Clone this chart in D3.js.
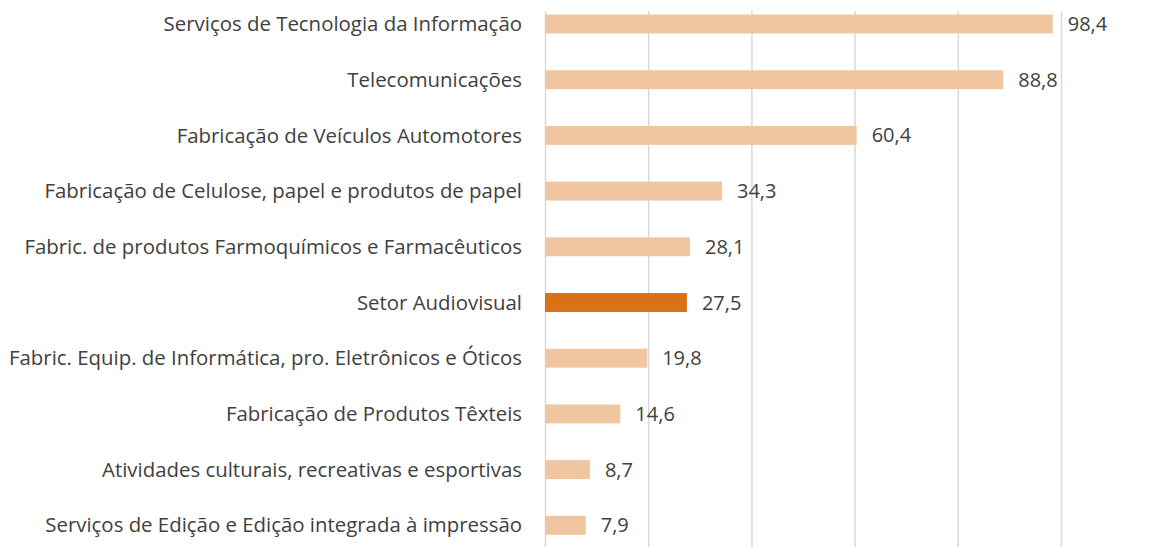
<!DOCTYPE html>
<html>
<head>
<meta charset="utf-8">
<script src="https://cdn.jsdelivr.net/npm/d3@7"></script>
<style>
  body { margin: 0; background: #fff; }
  text { font-family: "Open Sans", "Noto Sans", sans-serif; }
</style>
</head>
<body>
<script>
var categories = [
  "Serviços de Tecnologia da Informação",
  "Telecomunicações",
  "Fabricação de Veículos Automotores",
  "Fabricação de Celulose, papel e produtos de papel",
  "Fabric. de produtos Farmoquímicos e Farmacêuticos",
  "Setor Audiovisual",
  "Fabric. Equip. de Informática, pro. Eletrônicos e Óticos",
  "Fabricação de Produtos Têxteis",
  "Atividades culturais, recreativas e esportivas",
  "Serviços de Edição e Edição integrada à impressão"
];
var values = [98.4, 88.8, 60.4, 34.3, 28.1, 27.5, 19.8, 14.6, 8.7, 7.9];
var highlight = "Setor Audiovisual";
var xTicks = [0, 20, 40, 60, 80, 100];

var width = 1152, height = 547;

var svg = d3.select("body").append("svg")
  .attr("width", width)
  .attr("height", height);

var x = d3.scaleLinear().domain([0, 100]).range([545, 1061]);
var y = d3.scaleBand()
  .domain(categories)
  .range([-3.85, 553.15])
  .paddingInner(0.66)
  .paddingOuter(0.33);

// gridlines
svg.append("g")
  .attr("transform", "translate(0,547)")
  .call(d3.axisBottom(x).tickValues(xTicks).tickSize(-(547 - 11)).tickFormat(""))
  .call(function(g) { g.select(".domain").remove(); })
  .selectAll("line")
  .attr("stroke", "#d9d9d9")
  .attr("stroke-width", 1.5);

// bars
svg.selectAll("rect.bar")
  .data(values)
  .enter().append("rect")
  .attr("class", "bar")
  .attr("x", x(0))
  .attr("y", function(d, i) { return y(categories[i]); })
  .attr("width", function(d) { return x(d) - x(0); })
  .attr("height", y.bandwidth())
  .attr("fill", function(d, i) { return categories[i] === highlight ? "#da7117" : "#f0c6a0"; });

// category labels
svg.selectAll("text.cat")
  .data(categories)
  .enter().append("text")
  .attr("class", "cat")
  .attr("x", 522)
  .attr("y", function(d) { return y(d) + y.bandwidth() / 2; })
  .attr("dy", "0.35em")
  .attr("text-anchor", "end")
  .attr("font-size", "20.4px")
  .attr("fill", "#404040")
  .text(function(d) { return d; });

// value labels
svg.selectAll("text.val")
  .data(values)
  .enter().append("text")
  .attr("class", "val")
  .attr("x", function(d) { return x(d) + 15; })
  .attr("y", function(d, i) { return y(categories[i]) + y.bandwidth() / 2; })
  .attr("dy", "0.35em")
  .attr("font-size", "20px")
  .attr("fill", "#404040")
  .text(function(d) { return d.toFixed(1).replace(".", ","); });
</script>
</body>
</html>
